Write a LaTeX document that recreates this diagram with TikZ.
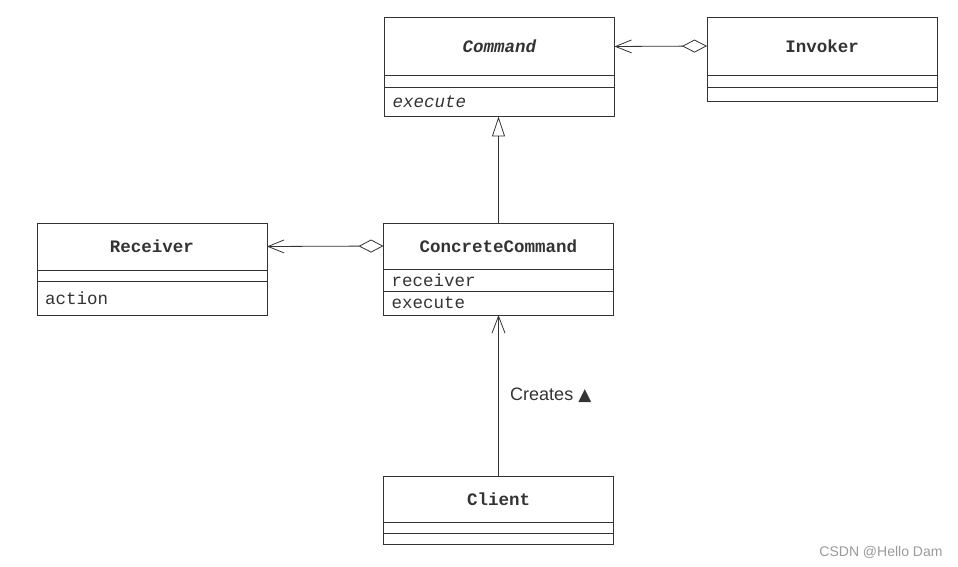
\documentclass[tikz,border=0pt]{standalone}
\usepackage{fontspec}
\setmainfont{Liberation Sans}
\setmonofont{Liberation Mono}
\newfontfamily\symfont{DejaVu Sans}
\usetikzlibrary{positioning, arrows.meta}
\definecolor{markgray}{HTML}{9A9A9A}
\definecolor{ink}{HTML}{333333}

\begin{document}
\begin{tikzpicture}[x=1pt, y=-1pt, color=ink,
    classname/.style={draw, line width=0.8pt, outer sep=0pt, inner sep=0pt, minimum width=230pt, font=\fontsize{17.5}{20}\selectfont\ttfamily\bfseries},
    compart/.style={draw, line width=0.8pt, outer sep=0pt, inner xsep=8pt, inner ysep=0pt, text width=214pt, align=left, font=\fontsize{17.5}{20}\selectfont\ttfamily},
    aggr/.style={{Diamond[open, length=25pt, width=13pt]}-{Straight Barb[length=16pt, width=13pt]}, line width=0.8pt},
    assoc/.style={-{Straight Barb[length=17pt, width=13pt]}, line width=0.8pt},
    inherit/.style={-{Triangle[open, length=20pt, width=13pt]}, line width=0.8pt}]
        \useasboundingbox (0,0) rectangle (958,567);

        %Klassen oben
        \node[classname, minimum height=58pt](command) at (499.5,46.5){\textit{Command}};
        \node[compart, minimum height=12pt, below = 0pt of command](commandattr){};
        \node[compart, minimum height=29pt, below = 0pt of commandattr](commandops){\textit{execute}};

        \node[classname, minimum height=58pt](invoker) at (822,46){Invoker};
        \node[compart, minimum height=12pt, below = 0pt of invoker](invokerattr){};
        \node[compart, minimum height=14pt, below = 0pt of invokerattr](invokerops){};

        %Klassen Mitte
        \node[classname, minimum height=47pt](receiver) at (152,246.5){Receiver};
        \node[compart, minimum height=11pt, below = 0pt of receiver](receiverattr){};
        \node[compart, minimum height=34pt, below = 0pt of receiverattr](receiverops){action};

        \node[classname, minimum height=46pt](concrete) at (498.5,246){ConcreteCommand};
        \node[compart, minimum height=22pt, below = 0pt of concrete](concreteattr){receiver};
        \node[compart, minimum height=24pt, below = 0pt of concreteattr](concreteops){execute};

        %Klasse unten
        \node[classname, minimum height=46pt](client) at (498.5,499){Client};
        \node[compart, minimum height=11pt, below = 0pt of client](clientattr){};
        \node[compart, minimum height=11pt, below = 0pt of clientattr](clientops){};

        %Beziehungen
        \draw(invoker.west) edge[aggr] (command.east);
        \draw(concrete.west) edge[aggr] (receiver.east);
        \draw(concrete.north) edge[inherit] (concrete.north |- commandops.south);
        \draw(client.north) edge[assoc] node[midway, right = 8pt, font=\fontsize{18}{20}\selectfont](creates){Creates {\symfont\fontsize{17}{18}\selectfont ▲}} (client.north |- concreteops.south);

        \node[font=\fontsize{14}{16}\selectfont, text=markgray](mark) at (881,552){CSDN @Hello Dam};
    \end{tikzpicture}
\end{document}
